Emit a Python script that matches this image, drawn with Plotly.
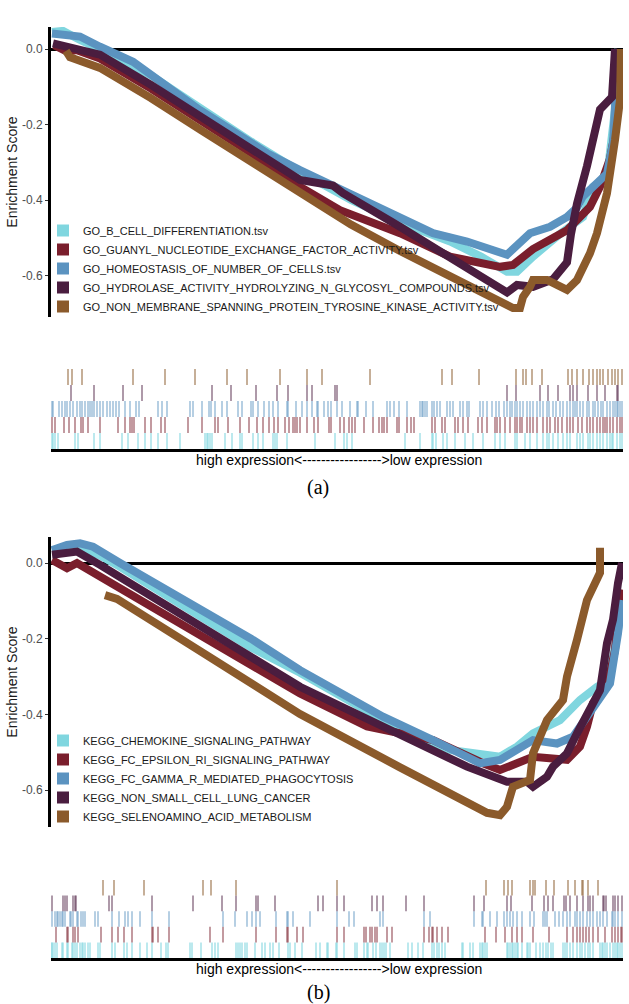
import plotly.graph_objects as go

# ---------------- Panel (a): GO gene sets ----------------
go_names = [
    "GO_B_CELL_DIFFERENTIATION.tsv",
    "GO_GUANYL_NUCLEOTIDE_EXCHANGE_FACTOR_ACTIVITY.tsv",
    "GO_HOMEOSTASIS_OF_NUMBER_OF_CELLS.tsv",
    "GO_HYDROLASE_ACTIVITY_HYDROLYZING_N_GLYCOSYL_COMPOUNDS.tsv",
    "GO_NON_MEMBRANE_SPANNING_PROTEIN_TYROSINE_KINASE_ACTIVITY.tsv",
]
# running enrichment score curves (rank position, ES)
a_cyan_rank = [1, 12, 29, 49, 100, 150, 200, 249, 300, 349, 399, 430, 456, 466, 482, 509, 532, 542, 556, 564, 567]
a_cyan_es = [0.045, 0.048, 0.024, 0.0, -0.07, -0.16, -0.245, -0.325, -0.40, -0.46, -0.51, -0.55, -0.59, -0.59, -0.55, -0.49, -0.445, -0.365, -0.34, -0.16, 0.0]
a_red_rank = [3, 7, 16, 26, 49, 100, 150, 200, 249, 289, 349, 399, 449, 462, 482, 499, 516, 539, 549, 559, 564, 567, 568]
a_red_es = [0.01, 0.006, -0.007, -0.003, -0.025, -0.105, -0.19, -0.275, -0.365, -0.427, -0.488, -0.55, -0.577, -0.572, -0.53, -0.506, -0.48, -0.418, -0.365, -0.29, -0.22, -0.05, 0.0]
a_blue_rank = [1, 29, 49, 82, 149, 216, 249, 299, 349, 372, 382, 416, 449, 456, 466, 479, 499, 516, 526, 532, 542, 556, 562, 564, 566, 567]
a_blue_es = [0.041, 0.033, 0.006, -0.034, -0.162, -0.276, -0.321, -0.385, -0.445, -0.48, -0.488, -0.51, -0.535, -0.545, -0.52, -0.488, -0.471, -0.445, -0.42, -0.39, -0.365, -0.33, -0.25, -0.16, -0.08, 0.0]
a_purple_rank = [2, 19, 49, 100, 150, 200, 249, 282, 292, 349, 399, 449, 456, 466, 482, 502, 516, 520, 526, 536, 542, 549, 561, 564]
a_purple_es = [0.015, 0.006, -0.015, -0.095, -0.18, -0.265, -0.347, -0.362, -0.382, -0.471, -0.55, -0.63, -0.645, -0.625, -0.63, -0.61, -0.565, -0.49, -0.41, -0.31, -0.24, -0.16, -0.127, 0.0]
a_brown_rank = [15, 19, 49, 100, 150, 200, 249, 300, 349, 399, 449, 462, 469, 472, 479, 482, 496, 516, 526, 539, 546, 556, 564, 569, 570]
a_brown_es = [-0.005, -0.022, -0.05, -0.13, -0.215, -0.30, -0.382, -0.465, -0.535, -0.60, -0.67, -0.686, -0.686, -0.657, -0.63, -0.612, -0.612, -0.638, -0.612, -0.541, -0.488, -0.382, -0.241, -0.135, 0.0]

# gene hit positions (rank) for the rug
a_cyan_hits = [1, 2, 4, 7, 24, 27, 43, 49, 71, 77, 87, 94, 100, 107, 116, 129, 154, 156, 157, 159, 161, 174, 181, 189,
               191, 202, 207, 212, 222, 224, 226, 236, 264, 284, 293, 296, 301, 354, 369, 381,
               382, 385, 392, 396, 404, 414, 422, 432, 444, 449, 454, 464, 466, 474, 479, 486, 492, 496, 498, 502, 507,
               512, 516, 519, 526, 529, 532, 537, 539, 542, 546, 549, 552, 556, 559, 561, 562, 566, 569, 571]
a_red_hits = [1, 4, 13, 18, 24, 30, 32, 37, 49, 67, 74, 79, 81, 83, 94, 100, 110, 114, 137, 151, 164, 167, 177, 189,
              198, 206, 212, 218, 223, 227, 234, 238, 242, 244, 246, 249, 256, 263, 267, 278, 280, 289, 293, 298, 301,
              304, 313, 322, 328, 331, 333, 336, 346, 348, 356, 360, 363, 381,
              384, 391, 394, 404, 407, 412, 417, 427, 431, 436, 444, 446, 449, 454, 459, 464, 466, 469, 471, 476, 479,
              482, 486, 492, 496, 499, 504, 507, 511, 516, 519, 522, 527, 531, 536, 539, 542, 546, 549, 552, 554, 556,
              559, 562, 566, 569, 571]
a_blue_hits = [1, 2, 8, 11, 14, 16, 19, 22, 26, 29, 31, 34, 37, 39, 41, 43, 46, 49, 52, 56, 59, 62, 65, 68, 74, 79, 85,
               88, 107, 111, 116, 139, 142, 151, 158, 160, 164, 171, 176, 187,
               191, 200, 202, 207, 213, 218, 222, 227, 236, 237, 245, 251, 256, 261, 266, 267, 273, 277, 280, 286, 291,
               299, 306, 307, 315, 322, 336, 339, 343, 348, 356, 369, 371, 372, 374, 376, 381,
               383, 386, 389, 396, 399, 402, 409, 412, 416, 418, 429, 432, 436, 441, 445, 448, 453, 456, 459, 461, 464,
               466, 469, 472, 476, 479, 482, 486, 489, 492, 496, 498, 502, 505, 509, 512, 516, 519, 522, 524, 526, 529,
               532, 536, 538, 542, 544, 547, 550, 552, 556, 559, 562, 564, 566, 567, 569, 571]
a_purple_hits = [20, 43, 72, 91, 161, 180, 205, 226, 237, 256, 261, 284, 286,
                 456, 465, 489, 497, 507, 519, 522, 526, 537, 546, 554, 566, 567]
a_brown_hits = [17, 21, 31, 82, 114, 144, 176, 196, 229, 256, 271, 319,
                391, 401, 428, 465, 472, 475, 481, 491, 517, 521, 526, 532, 538, 542, 546, 549, 552, 557, 561, 564, 567, 571]

# ---------------- Panel (b): KEGG gene sets ----------------
kegg_names = [
    "KEGG_CHEMOKINE_SIGNALING_PATHWAY",
    "KEGG_FC_EPSILON_RI_SIGNALING_PATHWAY",
    "KEGG_FC_GAMMA_R_MEDIATED_PHAGOCYTOSIS",
    "KEGG_NON_SMALL_CELL_LUNG_CANCER",
    "KEGG_SELENOAMINO_ACID_METABOLISM",
]
b_cyan_rank = [1, 26, 49, 69, 150, 200, 249, 349, 399, 429, 449, 466, 482, 509, 529, 546, 552, 562, 569, 571]
b_cyan_es = [0.03, 0.04, 0.02, -0.01, -0.142, -0.223, -0.29, -0.44, -0.494, -0.503, -0.512, -0.485, -0.45, -0.415, -0.362, -0.327, -0.318, -0.248, -0.142, -0.12]
b_red_rank = [1, 16, 26, 49, 150, 200, 249, 316, 382, 432, 449, 466, 482, 516, 529, 536, 542, 556, 564, 567, 571]
b_red_es = [0.008, -0.014, 0.0, -0.036, -0.194, -0.272, -0.345, -0.432, -0.468, -0.529, -0.547, -0.529, -0.512, -0.52, -0.485, -0.432, -0.37, -0.327, -0.23, -0.124, -0.07]
b_blue_rank = [1, 16, 29, 42, 69, 150, 200, 249, 332, 382, 429, 449, 482, 506, 522, 536, 549, 559, 567, 571]
b_blue_es = [0.034, 0.048, 0.052, 0.043, 0.0, -0.125, -0.2, -0.283, -0.406, -0.468, -0.529, -0.52, -0.468, -0.477, -0.459, -0.406, -0.354, -0.318, -0.186, -0.098]
b_purple_rank = [1, 16, 26, 49, 150, 200, 249, 332, 416, 456, 476, 482, 496, 502, 516, 526, 536, 549, 556, 562, 567, 571]
b_purple_es = [0.022, 0.026, 0.03, -0.005, -0.168, -0.249, -0.327, -0.432, -0.538, -0.578, -0.578, -0.591, -0.565, -0.538, -0.503, -0.45, -0.397, -0.336, -0.212, -0.15, -0.053, 0.0]
b_brown_rank = [54, 66, 150, 200, 249, 349, 436, 449, 456, 462, 479, 482, 496, 512, 516, 526, 536, 549, 549]
b_brown_es = [-0.085, -0.095, -0.234, -0.317, -0.399, -0.54, -0.66, -0.666, -0.644, -0.591, -0.573, -0.503, -0.415, -0.362, -0.30, -0.203, -0.098, -0.026, 0.04]

b_cyan_hits = [0, 1, 2, 4, 6, 11, 12, 16, 17, 21, 22, 24, 26, 29, 31, 32, 34, 37, 39, 47, 49, 61, 64, 73, 76, 81, 89, 96,
               101, 110, 115, 117, 139, 141, 150, 161, 164, 167, 185, 187, 189,
               191, 194, 196, 204, 211, 214, 219, 222, 228, 237, 239, 244, 251, 265, 269, 276, 277, 285, 286, 293, 304,
               306, 313, 316, 317, 322, 325, 329, 331, 333, 335, 339, 357, 361, 367, 372, 381, 386,
               383, 388, 391, 394, 411, 412, 419, 422, 429, 431, 432, 434, 436, 456, 457, 459, 461, 462, 464, 466, 467,
               471, 476, 477, 479, 485, 489, 492, 495, 497, 500, 502, 512, 514, 516, 519, 522, 526, 529, 531, 534, 537,
               539, 542, 549, 551, 552, 554, 556, 559, 562, 564, 566, 567, 569, 571]
b_red_hits = [5, 16, 17, 22, 24, 27, 50, 61, 67, 73, 81, 101, 102, 107, 118, 159, 172,
              205, 225, 236, 237, 246, 252, 286, 293, 313, 315, 319, 321, 324, 326, 336, 341, 373, 378, 382,
              381, 386, 391, 397, 434, 445, 454, 461, 466, 471, 482, 498, 516, 522, 526, 529, 532, 535, 538, 542, 547,
              554, 561, 564, 567, 570, 571]
b_blue_hits = [1, 4, 6, 7, 9, 11, 12, 14, 19, 20, 22, 26, 27, 30, 32, 34, 44, 47, 61, 68, 74, 77, 81, 89, 101, 118, 172,
               184, 196, 201, 205, 209, 225, 236, 237, 242, 259, 286, 298, 303, 329, 332, 373, 379,
               423, 431, 432, 439, 446, 453, 456, 459, 462, 466, 471, 479, 483, 492, 494, 496, 504, 508, 512, 516, 519,
               524, 526, 529, 532, 536, 539, 542, 546, 549, 552, 556, 561, 562, 564, 567, 571]
b_purple_hits = [1, 12, 14, 16, 22, 24, 25, 58, 61, 101, 142, 171, 185,
                 205, 207, 224, 267, 272, 286, 293, 321, 326, 332, 355, 373,
                 423, 433, 456, 460, 481, 493, 497, 502, 513, 515, 519, 526, 532, 537, 539, 542, 552, 553, 555, 562,
                 564, 567, 571]
b_brown_hits = [52, 63, 93, 152, 160, 185, 286,
                435, 453, 457, 461, 479, 482, 484, 495, 503, 517, 524, 531, 532, 537, 547]

# ---------------- styling ----------------
cols = ["#80D6DF", "#7A1E2C", "#5B93C0", "#4A1D3F", "#8B5A2B"]
rug_cols = ["rgba(128,214,224,0.7)", "rgba(122,30,44,0.6)", "rgba(91,147,192,0.6)",
            "rgba(74,29,63,0.6)", "rgba(139,90,43,0.65)"]
FONT = "Liberation Sans, Arial, sans-serif"

W, H = 629, 1004


def py(px):
    return 1 - px / H


fig = go.Figure()


def add_panel(names, curves, hits, xa, ya, xr, yr, legend_id):
    for i, (nm, (rk, es)) in enumerate(zip(names, curves)):
        fig.add_trace(go.Scatter(x=rk, y=es, mode="lines", line=dict(color=cols[i], width=8),
                                 xaxis=xa, yaxis=ya, showlegend=False, hoverinfo="skip"))
    for i, nm in enumerate(names):
        fig.add_trace(go.Scatter(x=[None], y=[None], mode="markers", name=nm,
                                 marker=dict(symbol="square", size=12, color=cols[i]),
                                 xaxis=xa, yaxis=ya, legend=legend_id, showlegend=True))
    for i, h in enumerate(hits):
        xs, ys = [], []
        for r in h:
            xs += [r, r, None]
            ys += [i, i + 1, None]
        fig.add_trace(go.Scatter(x=xs, y=ys, mode="lines", line=dict(color=rug_cols[i], width=1.5),
                                 xaxis=xr, yaxis=yr, showlegend=False, hoverinfo="skip"))


add_panel(go_names,
          [(a_cyan_rank, a_cyan_es), (a_red_rank, a_red_es), (a_blue_rank, a_blue_es),
           (a_purple_rank, a_purple_es), (a_brown_rank, a_brown_es)],
          [a_cyan_hits, a_red_hits, a_blue_hits, a_purple_hits, a_brown_hits],
          "x", "y", "x2", "y2", "legend")
add_panel(kegg_names,
          [(b_cyan_rank, b_cyan_es), (b_red_rank, b_red_es), (b_blue_rank, b_blue_es),
           (b_purple_rank, b_purple_es), (b_brown_rank, b_brown_es)],
          [b_cyan_hits, b_red_hits, b_blue_hits, b_purple_hits, b_brown_hits],
          "x3", "y3", "x4", "y4", "legend2")

xdom = [51 / W, 623 / W]
xr = [0, 572]
tickvals = [0, -0.2, -0.4, -0.6]
ticktext = ["0.0", "-0.2", "-0.4", "-0.6"]

yax_common = dict(showline=True, linecolor="black", linewidth=3, zeroline=True, zerolinecolor="black",
                  zerolinewidth=3, showgrid=False, ticks="outside", ticklen=3, tickwidth=1, tickcolor="#333333",
                  tickvals=tickvals, ticktext=ticktext, tickfont=dict(family=FONT, size=12, color="#4D4D4D"),
                  title=dict(text="Enrichment Score", font=dict(family=FONT, size=14, color="#1A1A1A"), standoff=2))
xhidden = dict(domain=xdom, range=xr, visible=False)
xrug = dict(domain=xdom, range=xr, showline=True, linecolor="black", linewidth=3, showticklabels=False,
            ticks="", showgrid=False, zeroline=False)
yrug = dict(range=[0, 5], visible=False)

legend_common = dict(font=dict(family=FONT, size=11, color="#1A1A1A"), bgcolor="rgba(0,0,0,0)",
                     xanchor="left", yanchor="top", itemclick=False)

fig.update_layout(
    width=W, height=H, margin=dict(l=0, r=0, t=0, b=0),
    paper_bgcolor="white", plot_bgcolor="white",
    xaxis=dict(**xhidden, anchor="y"),
    yaxis=dict(**yax_common, domain=[py(317), py(27)], range=[-(317 - 49) / 377.5, (49 - 27) / 377.5], anchor="x"),
    xaxis2=dict(**xrug, anchor="y2"),
    yaxis2=dict(**yrug, domain=[py(449), py(369)], anchor="x2"),
    xaxis3=dict(**xhidden, anchor="y3"),
    yaxis3=dict(**yax_common, domain=[py(827), py(537)], range=[-(827 - 563) / 378.5, (563 - 537) / 378.5], anchor="x3"),
    xaxis4=dict(**xrug, anchor="y4"),
    yaxis4=dict(**yrug, domain=[py(958), py(880)], anchor="x4"),
    legend=dict(**legend_common, x=43 / W, y=py(216)),
    legend2=dict(**legend_common, x=43 / W, y=py(726)),
    showlegend=True,
)

arrow_text = "high expression<" + "-" * 17 + ">low expression"
for yy in (460, 969):
    fig.add_annotation(text=arrow_text, xref="paper", yref="paper", x=339 / W, y=py(yy),
                       xanchor="center", yanchor="middle", showarrow=False,
                       font=dict(family=FONT, size=14, color="black"))
for lab, yy in (("(a)", 487), ("(b)", 992)):
    fig.add_annotation(text=lab, xref="paper", yref="paper", x=318 / W, y=py(yy),
                       xanchor="center", yanchor="middle", showarrow=False,
                       font=dict(family="Liberation Serif, Times New Roman, serif", size=20, color="black"))

fig.write_html("out.html", config={"displayModeBar": False},
               post_script="document.body.style.margin='0';")
